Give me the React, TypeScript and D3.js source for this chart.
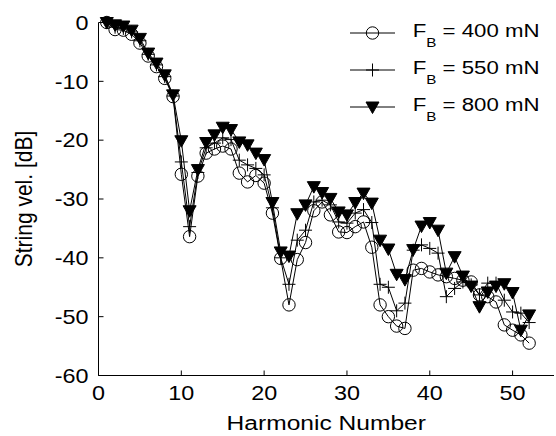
import React from 'react';
import * as d3 from 'd3';

const harmonics = [1,2,3,4,5,6,7,8,9,10,11,12,13,14,15,16,17,18,19,20,21,22,23,24,25,26,27,28,29,30,31,32,33,34,35,36,37,38,39,40,41,42,43,44,45,46,47,48,49,50,51,52];

const fb400 = [0,-1.2,-1.3,-2.0,-3.5,-5.7,-7.5,-9.5,-12.6,-25.8,-36.4,-26.1,-22.2,-21.5,-21.0,-21.5,-25.6,-27.1,-26.0,-27.3,-32.4,-40.1,-48.0,-40.3,-37.4,-32.0,-30.5,-32.7,-35.6,-35.7,-34.7,-33.9,-38.2,-48.0,-50.0,-51.6,-52.0,-42.1,-41.8,-42.4,-42.9,-43.2,-43.5,-43.8,-44.1,-46.3,-46.6,-47.5,-51.4,-52.3,-53.1,-54.5];

const fb550 = [0,-0.8,-1.0,-1.6,-3.1,-5.4,-7.2,-9.2,-12.5,-23.7,-34.7,-25.5,-21.3,-20.5,-19.6,-19.9,-23.4,-24.2,-24.8,-25.9,-31.5,-40.0,-44.5,-37.0,-35.3,-30.5,-30.2,-31.0,-33.9,-34.1,-32.4,-31.8,-34.0,-44.5,-45.0,-49.0,-47.7,-38.7,-37.8,-38.4,-39.2,-46.6,-45.2,-44.1,-44.6,-46.3,-44.3,-44.3,-47.2,-49.2,-49.4,-51.0];

const fb800 = [0,-0.4,-0.6,-1.3,-2.7,-5.2,-6.9,-8.9,-12.3,-20.1,-32.0,-25.0,-20.4,-19.1,-17.8,-18.2,-20.3,-20.8,-22.2,-23.3,-30.6,-39.0,-39.7,-32.5,-31.0,-27.9,-28.9,-29.9,-32.2,-32.7,-30.6,-29.0,-30.7,-37.0,-38.5,-42.8,-43.7,-38.6,-34.6,-34.0,-35.3,-42.6,-39.8,-43.1,-44.8,-48.3,-45.8,-44.8,-44.4,-45.9,-52.3,-49.7];

const xTicks = [0, 10, 20, 30, 40, 50];
const yTicks = [0, -10, -20, -30, -40, -50, -60];
const legendLabels = ['400', '550', '800'];
const markerKinds = ['circle', 'plus', 'triangle'];

const W = 556;
const H = 436;
const SX = 1.17;
const FONT = '"Liberation Sans", Arial, Helvetica, sans-serif';

function Marker({ kind, cx, cy }: { kind: string; cx: number; cy: number }) {
  if (kind === 'circle') {
    return <circle cx={cx} cy={cy} r={6.2} fill="none" stroke="#000" strokeWidth={1} />;
  }
  if (kind === 'plus') {
    return (
      <path
        d={`M${cx - 6.5},${cy}H${cx + 6.5}M${cx},${cy - 6.5}V${cy + 6.5}`}
        stroke="#000"
        strokeWidth={1}
        fill="none"
      />
    );
  }
  return (
    <path
      d={`M${cx - 6.5},${cy - 5}L${cx + 6.5},${cy - 5}L${cx},${cy + 6.5}Z`}
      fill="#000"
      stroke="#000"
      strokeWidth={1}
    />
  );
}

export default function App() {
  const x = d3.scaleLinear().domain([0, 55]).range([98.5, 554]);
  const y = d3.scaleLinear().domain([-60, 0]).range([375.5, 22.5]);
  const series = [fb400, fb550, fb800];
  const line = d3
    .line<number>()
    .x((_, i) => x(harmonics[i]))
    .y((d) => y(d));

  const legendRows = [33, 70, 107];

  return (
    <svg
      width={W}
      height={H}
      style={{ position: 'absolute', left: 0, top: 0, background: '#fff' }}
      fontFamily={FONT}
    >
      <rect x={0} y={0} width={W} height={H} fill="#fff" />
      {/* axes */}
      <line x1={x(0)} x2={x(0)} y1={y(0)} y2={y(-60)} stroke="#000" strokeWidth={1} />
      <line x1={x(0)} x2={x(55)} y1={y(-60)} y2={y(-60)} stroke="#000" strokeWidth={1} />
      {xTicks.map((t) => (
        <g key={'xt' + t}>
          <line x1={x(t)} x2={x(t)} y1={y(-60)} y2={y(-60) - 5} stroke="#000" strokeWidth={1} />
          <g transform={`translate(${x(t)},400) scale(${SX},1)`}>
            <text textAnchor="middle" fontSize={20} fill="#000">{t}</text>
          </g>
        </g>
      ))}
      {yTicks.map((t) => (
        <g key={'yt' + t}>
          <line x1={x(0)} x2={x(0) + 5} y1={y(t)} y2={y(t)} stroke="#000" strokeWidth={1} />
          <g transform={`translate(88.5,${y(t) + 7.2}) scale(${SX},1)`}>
            <text textAnchor="end" fontSize={20} fill="#000">{t}</text>
          </g>
        </g>
      ))}
      <g transform={`translate(${(x(0) + x(55)) / 2},430) scale(${SX},1)`}>
        <text textAnchor="middle" fontSize={21} fill="#000">Harmonic Number</text>
      </g>
      <g transform={`translate(32,${(y(0) + y(-60)) / 2}) scale(${SX},1) rotate(-90)`}>
        <text textAnchor="middle" fontSize={21} fill="#000">String vel. [dB]</text>
      </g>

      {/* series */}
      {series.map((s, si) => (
        <g key={'s' + si}>
          <path d={line(s) || ''} fill="none" stroke="#000" strokeWidth={1} />
          {s.map((v, i) => (
            <Marker key={i} kind={markerKinds[si]} cx={x(harmonics[i])} cy={y(v)} />
          ))}
        </g>
      ))}

      {/* legend */}
      {legendLabels.map((lab, i) => (
        <g key={'lg' + lab}>
          <line x1={350} x2={395} y1={legendRows[i]} y2={legendRows[i]} stroke="#000" strokeWidth={1} />
          <Marker kind={markerKinds[i]} cx={372.5} cy={legendRows[i]} />
          <g transform={`translate(412.7,${legendRows[i] + 3.7}) scale(${SX},1)`}>
            <text fontSize={19} fill="#000">
              F
              <tspan dy={10} fontSize={13}>B</tspan>
              <tspan dy={-10}>{` = ${lab} mN`}</tspan>
            </text>
          </g>
        </g>
      ))}
    </svg>
  );
}
